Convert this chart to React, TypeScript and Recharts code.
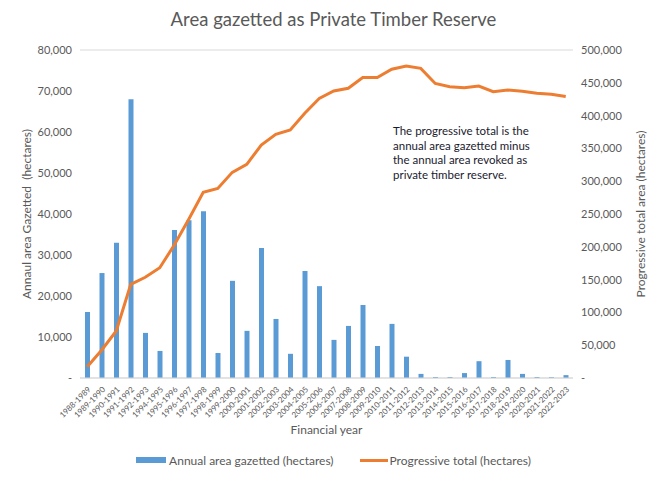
import React from 'react';
import { ComposedChart, Bar, Line, XAxis, YAxis, CartesianGrid, Legend } from 'recharts';

const years = [
  '1988-1989', '1989-1990', '1990-1991', '1991-1992', '1992-1993', '1994-1995',
  '1995-1996', '1996-1997', '1997-1998', '1998-1999', '1999-2000', '2000-2001',
  '2001-2002', '2002-2003', '2003-2004', '2004-2005', '2005-2006', '2006-2007',
  '2007-2008', '2008-2009', '2009-2010', '2010-2011', '2011-2012', '2012-2013',
  '2013-2014', '2014-2015', '2015-2016', '2016-2017', '2017-2018', '2018-2019',
  '2019-2020', '2020-2021', '2021-2022', '2022-2023'
];

// hectares gazetted each year
const annualGazetted = [
  16100, 25600, 33000, 68000, 11000, 6600, 36100, 38500, 40700, 6100, 23700, 11500,
  31700, 14400, 5900, 26100, 22400, 9300, 12700, 17800, 7800, 13200, 5200, 1000,
  250, 250, 1200, 4100, 250, 4400, 1000, 250, 200, 700
];

// running total, gazetted minus revoked
const progressiveTotal = [
  17000, 42700, 71600, 142800, 153500, 168000, 202700, 242000, 283000, 289000, 313500, 325700,
  355000, 371500, 378000, 403500, 426000, 437500, 441600, 458000, 458000, 470600, 475600, 472000,
  449000, 444000, 442500, 445000, 436500, 439000, 437000, 434000, 432500, 429000
];

const leftTicks = [0, 10000, 20000, 30000, 40000, 50000, 60000, 70000, 80000];
const rightTicks = [0, 50000, 100000, 150000, 200000, 250000, 300000, 350000, 400000, 450000, 500000];

const data = years.map((year, i) => ({
  year,
  annual: annualGazetted[i],
  total: progressiveTotal[i]
}));

const FONT = 'Lato, "Open Sans", sans-serif';
const GREY = '#595959';
const BLUE = '#5B9BD5';
const ORANGE = '#ED7D31';

const fmt = (v: number) => (v === 0 ? '-  ' : v.toLocaleString('en-US'));

function LegendBox() {
  return (
    <div style={{ display: 'flex', justifyContent: 'center', alignItems: 'center', height: 30, fontFamily: FONT, fontSize: 12, color: GREY }}>
      <span style={{ display: 'inline-block', width: 30, height: 6, background: BLUE, marginRight: 3 }} />
      <span style={{ marginRight: 26 }}>Annual area gazetted (hectares)</span>
      <span style={{ display: 'inline-block', width: 28, height: 3, background: ORANGE, marginRight: 2 }} />
      <span>Progressive total (hectares)</span>
    </div>
  );
}

export default function App() {
  return (
    <div style={{ position: 'absolute', left: 0, top: 0, width: 667, height: 483, background: '#fff', fontFamily: FONT }}>
      <div style={{ position: 'absolute', top: 8, width: 667, textAlign: 'center', fontSize: 18.5, color: GREY }}>
        Area gazetted as Private Timber Reserve
      </div>
      <ComposedChart
        width={667}
        height={483}
        data={data}
        margin={{ top: 50, right: 0, bottom: 8, left: 0 }}
        barSize={5}
      >
        <CartesianGrid vertical={false} stroke="#d9d9d9" />
        <XAxis
          dataKey="year"
          interval={0}
          tickLine={false}
          axisLine={{ stroke: '#d9d9d9' }}
          height={67}
          angle={-45}
          textAnchor="end"
          tick={{ fontSize: 8, fill: GREY, fontFamily: FONT }}
          label={{ value: 'Financial year', position: 'insideBottom', offset: 11, fill: GREY, fontSize: 12, fontFamily: FONT }}
        />
        <YAxis
          yAxisId="left"
          domain={[0, 80000]}
          ticks={leftTicks}
          tickFormatter={fmt}
          width={80}
          axisLine={false}
          tickLine={false}
          tick={{ fontSize: 11, fill: GREY, fontFamily: FONT }}
          label={{ value: 'Annaul area Gazetted\u00A0 (hectares)', angle: -90, position: 'insideLeft', offset: 27, fill: GREY, fontSize: 12, fontFamily: FONT, style: { textAnchor: 'middle' } }}
        />
        <YAxis
          yAxisId="right"
          orientation="right"
          domain={[0, 500000]}
          ticks={rightTicks}
          tickFormatter={fmt}
          width={94}
          axisLine={false}
          tickLine={false}
          tick={{ fontSize: 11, fill: GREY, fontFamily: FONT, textAnchor: 'start' }}
          label={{ value: 'Progressive total area (hectares)', angle: -90, position: 'insideRight', offset: 26, fill: GREY, fontSize: 12, fontFamily: FONT, style: { textAnchor: 'middle' } }}
        />
        <Legend content={() => <LegendBox />} verticalAlign="bottom" />
        <Bar yAxisId="left" dataKey="annual" fill={BLUE} isAnimationActive={false} />
        <Line yAxisId="right" type="linear" dataKey="total" stroke={ORANGE} strokeWidth={3} dot={false} isAnimationActive={false} />
      </ComposedChart>
      <div style={{ position: 'absolute', left: 383, top: 118, width: 160, padding: '6px 0 6px 10px', boxSizing: 'border-box', background: '#fff', fontSize: 11.5, lineHeight: '14.7px', color: '#1a1a2e' }}>
        The progressive total is the annual area gazetted minus the annual area revoked as private timber reserve.
      </div>
    </div>
  );
}
